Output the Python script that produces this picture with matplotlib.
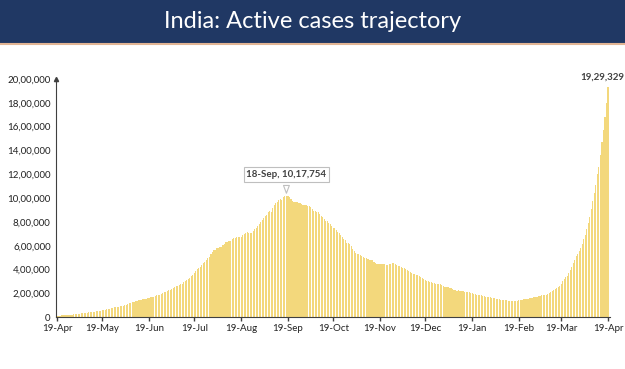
import numpy as np
import pandas as pd
import matplotlib
matplotlib.use("Agg")
import matplotlib.pyplot as plt
from matplotlib.ticker import FuncFormatter
import matplotlib.dates as mdates

# Casos activos diarios en India (miles), del 19-Apr-2020 al 19-Apr-2021
apr20 = [13.0, 14.2, 14.7, 15.5, 16.5, 17.6, 18.7, 19.5, 20.8, 21.6, 22.6, 23.7]
may20 = [25.0, 26.5, 28.0, 29.5, 32.1, 33.5, 35.9, 37.9, 39.8, 41.5, 43.0, 44.0, 46.0,
         47.5, 49.2, 51.4, 53.0, 56.3, 58.8, 61.1, 63.6, 66.3, 69.6, 73.6, 77.1, 80.7,
         83.0, 86.1, 89.9, 90.0, 91.8]
jun20 = [93.3, 97.6, 101.5, 106.7, 110.9, 115.9, 120.4, 125.4, 129.9, 133.6, 137.4,
         141.8, 145.8, 149.3, 153.1, 153.2, 155.2, 160.4, 163.2, 168.3, 169.5, 174.4,
         178.0, 183.0, 186.5, 189.5, 197.4, 203.1, 210.1, 215.1]
jul20 = [220.1, 226.9, 227.4, 235.4, 244.8, 253.3, 259.6, 264.9, 269.8, 276.7, 283.4,
         292.3, 301.6, 311.6, 319.8, 331.1, 342.5, 358.7, 373.4, 390.5, 402.5, 411.1,
         426.2, 440.1, 456.1, 467.9, 485.1, 496.9, 509.4, 528.2, 545.3]
aug20 = [565.1, 567.7, 579.4, 585.6, 587.7, 593.5, 607.4, 619.1, 628.7, 634.9, 639.9,
         643.9, 653.6, 661.6, 668.2, 673.2, 676.9, 673.2, 676.5, 692.0, 697.3, 707.7,
         714.3, 710.8, 704.3, 706.0, 725.0, 742.0, 752.4, 765.3, 785.9]
sep20 = [801.3, 815.5, 831.1, 846.4, 862.3, 882.5, 890.0, 883.7, 919.0, 943.5, 956.4,
         970.3, 986.6, 990.1, 986.6, 1009.9, 1017.0, 1017.754, 1013.9, 1010.8, 996.7,
         975.9, 968.4, 970.1, 966.4, 960.9, 956.4, 947.6, 940.4, 940.7]
oct20 = [944.9, 937.6, 934.4, 924.0, 907.9, 894.0, 890.6, 885.2, 882.0, 867.5, 846.0,
         838.7, 826.9, 812.4, 806.7, 794.6, 783.3, 766.5, 749.7, 746.4, 730.7, 715.8,
         704.0, 690.8, 672.2, 653.7, 646.3, 627.3, 619.6, 611.1, 595.4]
nov20 = [570.5, 558.0, 541.4, 533.8, 529.2, 523.0, 516.6, 509.7, 499.8, 494.7, 486.2,
         484.5, 479.2, 478.0, 465.5, 453.4, 443.3, 443.8, 444.7, 444.7, 446.8, 443.8,
         438.7, 439.7, 443.5, 447.0, 454.9, 453.9, 443.9, 438.2]
dec20 = [431.0, 428.6, 422.9, 416.1, 409.7, 403.2, 396.7, 387.3, 378.9, 372.3, 366.2,
         359.8, 356.5, 353.3, 347.6, 339.8, 332.0, 322.4, 313.8, 307.6, 303.6, 300.4,
         292.5, 289.2, 285.7, 281.9, 278.7, 277.3, 277.3, 268.6, 262.3]
jan21 = [257.7, 254.3, 250.2, 247.2, 243.8, 237.5, 228.1, 228.1, 222.5, 225.4, 223.0,
         219.3, 216.6, 214.5, 213.0, 211.0, 208.8, 208.0, 200.5, 197.2, 193.0, 188.7,
         185.7, 184.4, 184.2, 178.6, 175.7, 173.7, 171.7, 169.8, 168.2]
feb21 = [163.4, 160.1, 160.0, 155.0, 154.7, 151.5, 148.6, 148.6, 143.1, 141.5, 142.6,
         137.6, 136.5, 136.9, 139.5, 136.9, 137.6, 140.0, 143.1, 145.6, 147.3, 150.1,
         150.1, 151.7, 155.0, 159.6, 164.5, 165.0]
mar21 = [168.6, 170.1, 173.4, 176.3, 180.3, 184.5, 187.5, 188.7, 189.2, 196.0, 201.0,
         210.5, 219.3, 228.6, 234.4, 243.3, 252.4, 265.6, 281.3, 303.1, 320.0, 334.6,
         345.4, 368.5, 395.2, 421.1, 452.6, 484.1, 510.6, 529.1, 552.6]
apr21 = [584.1, 614.7, 658.9, 691.6, 741.8, 788.2, 843.5, 910.3, 979.6, 1046.6, 1108.1,
         1201.0, 1264.7, 1365.7, 1471.9, 1569.7, 1679.7, 1801.3, 1929.329]

active_k = apr20 + may20 + jun20 + jul20 + aug20 + sep20 + oct20 + nov20 + dec20 + jan21 + feb21 + mar21 + apr21
dates = pd.date_range("2020-04-19", "2021-04-19", freq="D")
active = np.array(active_k) * 1000

tick_dates = pd.to_datetime(["2020-04-19", "2020-05-19", "2020-06-19", "2020-07-19",
                             "2020-08-19", "2020-09-19", "2020-10-19", "2020-11-19",
                             "2020-12-19", "2021-01-19", "2021-02-19", "2021-03-19",
                             "2021-04-19"])
y_ticks = [0, 200000, 400000, 600000, 800000, 1000000, 1200000, 1400000,
           1600000, 1800000, 2000000]


# Formato indio de miles: 10,17,754
def indian_format(v, pos=None):
    s = str(int(round(v)))
    if len(s) <= 3:
        return s
    last3 = s[-3:]
    rest = s[:-3]
    groups = []
    while len(rest) > 2:
        groups.insert(0, rest[-2:])
        rest = rest[:-2]
    if rest:
        groups.insert(0, rest)
    return ",".join(groups) + "," + last3


plt.rcParams['font.family'] = ['Lato', 'DejaVu Sans']

fig = plt.figure(figsize=(6.25, 3.69), dpi=100)

# Banda del título
banner = fig.add_axes([0, 1 - 43 / 369, 1, 43 / 369])
banner.set_facecolor("#203864")
banner.set_xticks([])
banner.set_yticks([])
for s in banner.spines.values():
    s.set_visible(False)
banner.text(0.5, 0.5, "India: Active cases trajectory", color="white", fontsize=17,
            ha="center", va="center")
fig.add_artist(plt.Line2D([0, 1], [1 - 44 / 369, 1 - 44 / 369], color="#E2B594", lw=1.5))

ax = fig.add_axes([56.2 / 625, 51.7 / 369, 553.3 / 625, 238.3 / 369])
ax.bar(dates, active, width=0.75, color="#F3D87C", linewidth=0)

ax.set_xlim(dates[0] - pd.Timedelta(days=0.5), dates[-1] + pd.Timedelta(days=1))
ax.set_ylim(0, 2000000)
ax.set_xticks(tick_dates)
ax.xaxis.set_major_formatter(mdates.DateFormatter("%d-%b"))
ax.set_yticks(y_ticks)
ax.yaxis.set_major_formatter(FuncFormatter(indian_format))
ax.tick_params(axis="y", length=0, labelsize=7, labelcolor="#222222", pad=4)
ax.tick_params(axis="x", length=3, width=1, color="#404040", labelsize=7,
               labelcolor="#222222", pad=2)

for side in ["top", "right"]:
    ax.spines[side].set_visible(False)
ax.spines["left"].set_color("#404040")
ax.spines["bottom"].set_color("#404040")
ax.plot(0, 1, marker="^", color="#404040", ms=3, transform=ax.transAxes, clip_on=False)

# Anotación del pico
peak_i = int(np.argmax(active[:250]))
ax.annotate(f"{dates[peak_i].strftime('%d-%b')}, {indian_format(active[peak_i])}",
            xy=(dates[peak_i], active[peak_i]), xytext=(0, 12), textcoords="offset points",
            ha="center", va="bottom", fontsize=7, color="#404040", fontweight="bold",
            bbox=dict(boxstyle="square,pad=0.3", fc="white", ec="#BFBFBF", lw=0.8),
            arrowprops=dict(arrowstyle="wedge,tail_width=0.6,shrink_factor=0.5",
                            fc="white", ec="#BFBFBF", lw=0.8))

# Último valor
ax.annotate(indian_format(active[-1]), xy=(dates[-1], active[-1]), xytext=(-4, 4),
            textcoords="offset points", ha="center", va="bottom", fontsize=7,
            color="#404040", fontweight="bold", annotation_clip=False)

fig.savefig("out.png", dpi=100)
